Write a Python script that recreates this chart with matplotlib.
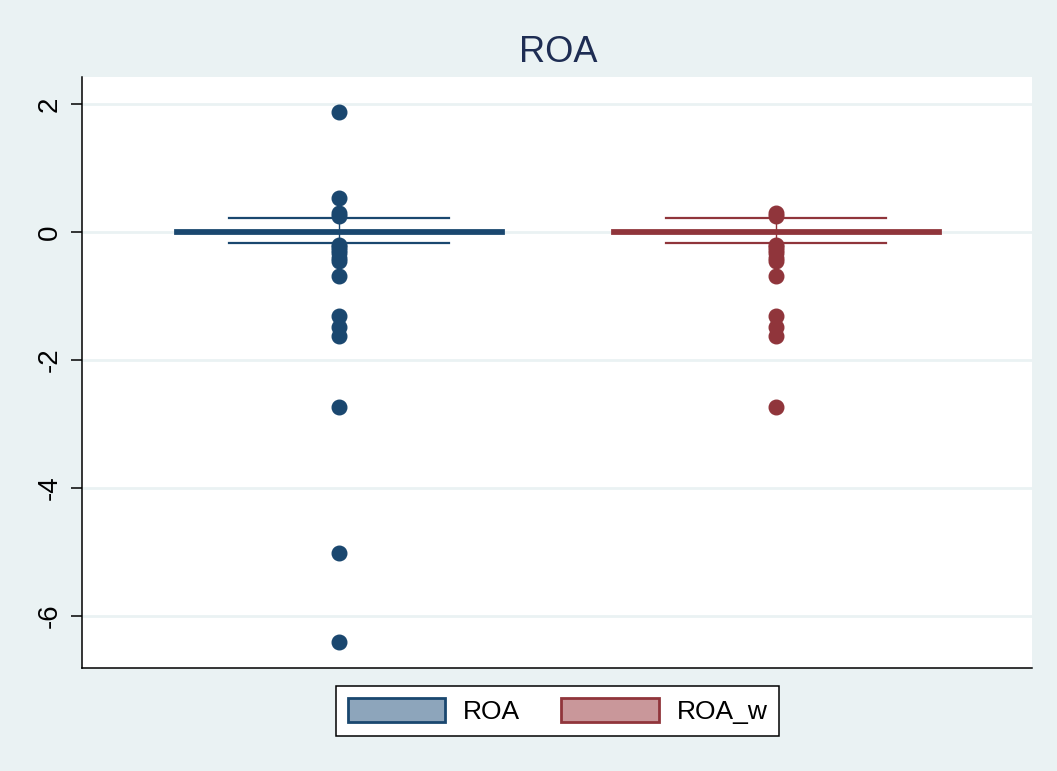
import matplotlib
matplotlib.use("Agg")
import matplotlib.pyplot as plt
from matplotlib.patches import Patch

# ---- data ----
series_names = ["ROA", "ROA_w"]
medians = [0.01, 0.01]
q1s = [-0.012, -0.012]
q3s = [0.03, 0.03]
whis_lo = [-0.17, -0.17]
whis_hi = [0.22, 0.22]
roa_fliers = [1.88, 0.53, 0.30, 0.25, -0.20, -0.24, -0.28, -0.33, -0.40,
              -0.46, -0.69, -1.32, -1.48, -1.62, -2.74, -5.02, -6.40]
roa_w_fliers = [0.30, 0.25, -0.20, -0.24, -0.28, -0.33, -0.40, -0.46,
                -0.69, -1.32, -1.48, -1.62, -2.74]
yticks = [-6, -4, -2, 0, 2]

colors = ["#1A476F", "#90353B"]
fills = ["#8DA5BB", "#C9979A"]
bg = "#EAF2F3"

fig = plt.figure(figsize=(10.57, 7.71), dpi=100)
fig.patch.set_facecolor(bg)
ax = fig.add_axes([82/1057, (771-668)/771, (1032-82)/1057, (668-77)/771])
ax.set_facecolor("white")

fliers_all = [roa_fliers, roa_w_fliers]
for i in range(2):
    stats = [dict(med=medians[i], q1=q1s[i], q3=q3s[i], whislo=whis_lo[i],
                  whishi=whis_hi[i], fliers=fliers_all[i], label=series_names[i])]
    c = colors[i]
    ax.bxp(stats, positions=[i + 1], widths=0.75, capwidths=0.503,
           patch_artist=True, showfliers=True,
           boxprops=dict(facecolor=c, edgecolor=c, linewidth=2),
           medianprops=dict(color=c, linewidth=2),
           whiskerprops=dict(color=c, linewidth=1.0),
           capprops=dict(color=c, linewidth=1.6),
           flierprops=dict(marker="o", markerfacecolor=c, markeredgecolor=c,
                           markersize=10.5, linestyle="none"),
           zorder=3)

ax.set_xlim(0.412, 2.586)
ax.set_ylim(-6.8125, 2.42)
ax.set_xticks([])
ax.set_yticks(yticks)
ax.set_yticklabels([str(t) for t in yticks], rotation=90, va="center",
                   fontsize=20, family="Liberation Sans")
ax.tick_params(axis="y", length=8, width=1.1, pad=6, color="black")
ax.grid(axis="y", color=bg, linewidth=2, zorder=0)
ax.set_axisbelow(True)
for s in ["top", "right"]:
    ax.spines[s].set_visible(False)
for s in ["left", "bottom"]:
    ax.spines[s].set_linewidth(1.1)
    ax.spines[s].set_color("black")

fig.text(558/1057, (771-52)/771, "ROA", ha="center", va="center",
         fontsize=26, color="#1E2D53", family="Liberation Sans")

handles = [Patch(facecolor=fills[i], edgecolor=colors[i], linewidth=2,
                 label=series_names[i]) for i in range(2)]
leg = fig.legend(handles=handles, loc="center", ncol=2,
                 bbox_to_anchor=(557.5/1057, (771-711)/771),
                 prop=dict(family="Liberation Sans", size=19),
                 handlelength=3.7, handleheight=1.0, handletextpad=0.67,
                 columnspacing=1.55, borderpad=0.45, fancybox=False,
                 frameon=True, edgecolor="black", framealpha=1)
leg.get_frame().set_linewidth(1.1)
leg.get_frame().set_facecolor("white")

fig.savefig("out.png", dpi=100, facecolor=bg)
